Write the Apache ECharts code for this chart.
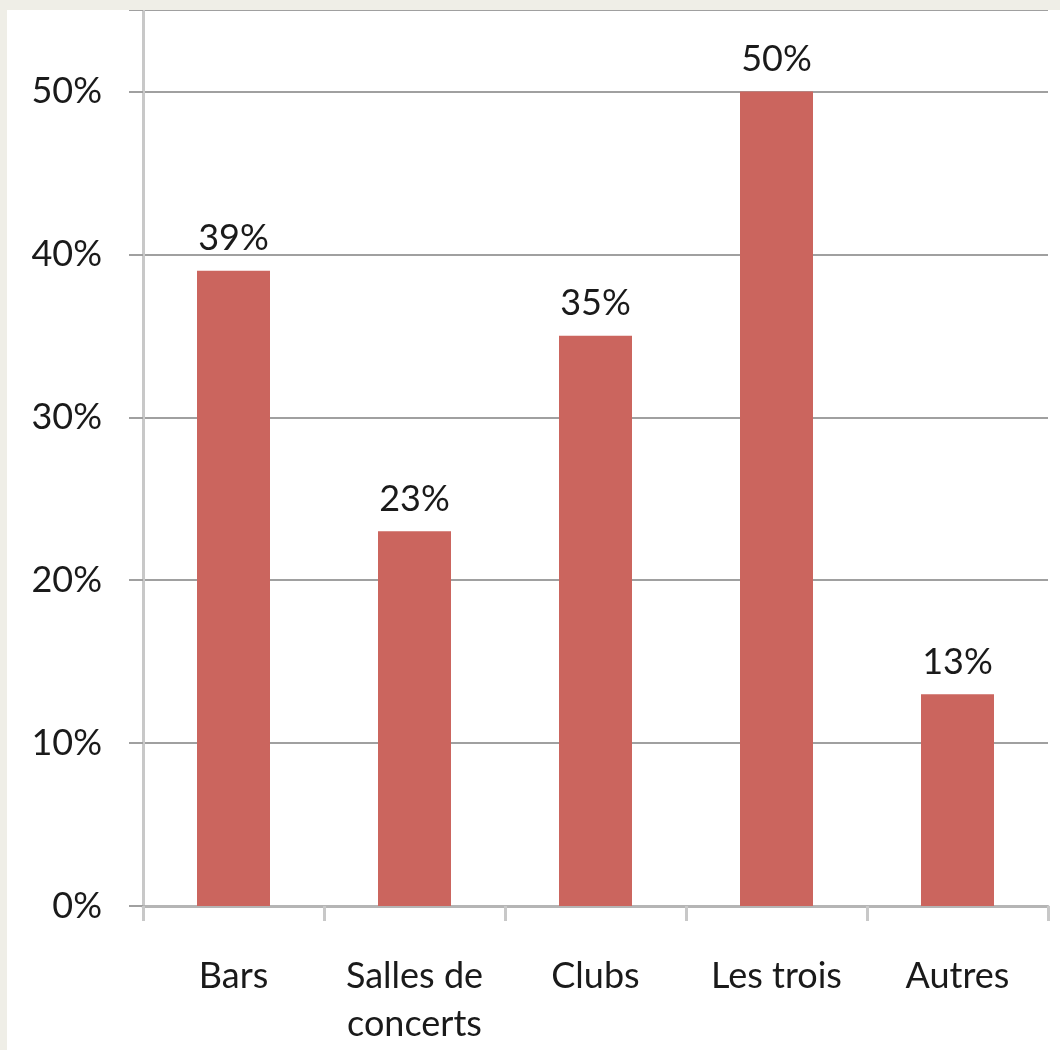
<!DOCTYPE html>
<html>
<head>
<meta charset="utf-8">
<script src="https://cdn.jsdelivr.net/npm/echarts@6/dist/echarts.min.js"></script>
<style>
    html, body { margin: 0; padding: 0; background: #efeee7; }
    #main { position: absolute; left: 7px; top: 10px; width: 1053px; height: 1040px; background: #ffffff; }
</style>
</head>
<body>
<div id="main"></div>
<script>
    const categories = ['Bars', 'Salles de\nconcerts', 'Clubs', 'Les trois', 'Autres'];
    const values = [39, 23, 35, 50, 13];
    const yTicks = [0, 10, 20, 30, 40, 50];

    const chart = echarts.init(document.getElementById('main'));
    const font = 'Lato, "Open Sans", sans-serif';

    const option = {
        animation: false,
        grid: {
            left: 136,
            right: 12,
            top: 0,
            bottom: 144,
        },
        xAxis: {
            type: 'category',
            data: categories,
            axisLine: { lineStyle: { color: '#b5b5b5', width: 3 } },
            axisTick: { show: true, length: 15, lineStyle: { color: '#c8c8c8', width: 3 } },
            axisLabel: {
                color: '#1a1a1a',
                fontFamily: font,
                fontSize: 36,
                lineHeight: 48,
                margin: 46,
                interval: 0,
            },
        },
        yAxis: {
            type: 'value',
            min: yTicks[0],
            max: 55,
            interval: 10,
            axisLine: { show: true, lineStyle: { color: '#c8c8c8', width: 3 } },
            axisTick: { show: true, length: 14, lineStyle: { color: '#a0a0a0', width: 2 } },
            splitLine: { lineStyle: { color: '#a0a0a0', width: 2 } },
            axisLabel: {
                color: '#1a1a1a',
                fontFamily: font,
                fontSize: 36,
                margin: 41,
                formatter: (v) => (yTicks.includes(v) ? v + '%' : ''),
            },
        },
        series: [
            {
                type: 'bar',
                data: values,
                barWidth: 73,
                itemStyle: { color: '#cb655e' },
                label: {
                    show: true,
                    position: 'top',
                    distance: 14,
                    color: '#1a1a1a',
                    fontFamily: font,
                    fontSize: 36,
                    formatter: '{c}%',
                },
            },
        ],
    };

    chart.setOption(option);
</script>
</body>
</html>
